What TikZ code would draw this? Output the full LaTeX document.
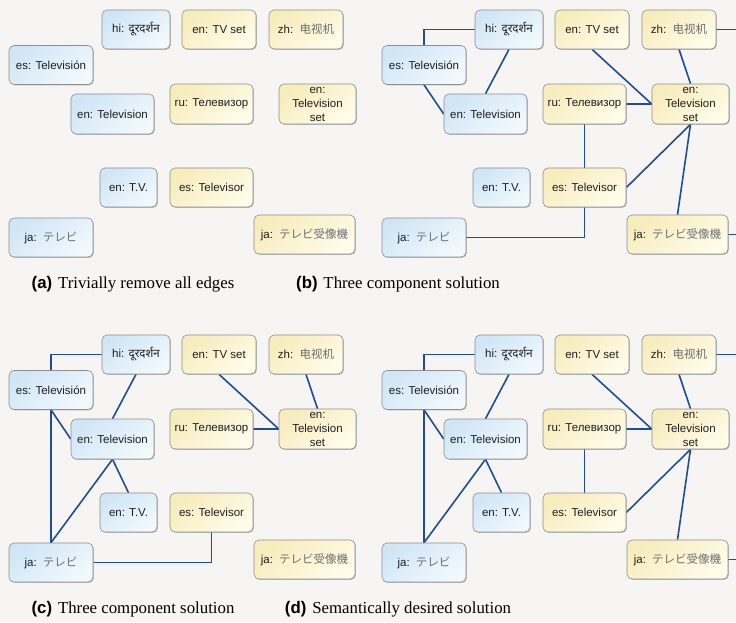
\documentclass[tikz,border=0pt]{standalone}
\usepackage{fontspec}
\setmainfont{Liberation Serif}
\setsansfont{Liberation Sans}
\newfontfamily\boxfont{Liberation Sans}
\newfontfamily\hindifont[Script=Devanagari]{Noto Sans}
\newfontfamily\jpfont{Noto Sans CJK JP}
\newfontfamily\scfont{Noto Sans CJK SC}
\usetikzlibrary{shadows}

\definecolor{bgcol}{HTML}{F6F5F3}
\definecolor{edgecol}{HTML}{1F4E96}
\definecolor{blueA}{HTML}{D0E6F6}
\definecolor{blueB}{HTML}{F2F9FD}
\definecolor{yelA}{HTML}{F7ECBC}
\definecolor{yelB}{HTML}{FFFCEA}
\definecolor{boxline}{HTML}{8E8E8E}
\definecolor{cjkgray}{HTML}{6E6E6E}

\pgfdeclarelayer{bg}
\pgfsetlayers{bg,main}

\tikzset{
  wordbox/.style={draw=boxline, line width=0.6pt, rounded corners=5pt,
    inner sep=0pt, align=center, minimum height=39pt,
    font=\boxfont\fontsize{11.5}{14.5}\selectfont, text=black!88,
    drop shadow={shadow xshift=0.9pt, shadow yshift=-0.9pt, fill=black!55, opacity=0.45}},
  bluebox/.style={wordbox, top color=blueA, bottom color=blueB, shading angle=35},
  yellowbox/.style={wordbox, top color=yelA, bottom color=yelB, shading angle=35},
  link/.style={draw=edgecol, line width=1.6pt},
  captext/.style={font=\fontsize{16.8}{20}\selectfont, inner sep=0pt}
}

\newcommand\cjkjp[1]{{\color{cjkgray}\jpfont #1}}
\newcommand\cjksc[1]{{\color{cjkgray}\scfont #1}}

% the eleven word boxes of one panel, names prefixed by #1
\newcommand\tvnodes[1]{%
  \node[bluebox, minimum width=68pt] (#1hi) at (136,29.5) {hi: {\hindifont दूरदर्शन}};
  \node[yellowbox, minimum width=74pt] (#1tvset) at (219,29.5) {en: TV set};
  \node[yellowbox, minimum width=74pt] (#1zh) at (306,29.5) {zh:\, \cjksc{电视机}};
  \node[bluebox, minimum width=84pt] (#1es) at (51,65) {es: Televisión};
  \node[bluebox, minimum width=83pt, minimum height=40pt] (#1entv) at (112.5,114) {en: Television};
  \node[yellowbox, minimum width=83pt, minimum height=40pt] (#1ru) at (211.5,104) {ru: Телевизор};
  \node[yellowbox, minimum width=77pt, minimum height=40pt, font=\boxfont\fontsize{11.5}{14}\selectfont] (#1tvs) at (317.5,104) {en:\\Television\\set};
  \node[bluebox, minimum width=57pt] (#1tdv) at (128.5,187.5) {en: T.V.};
  \node[yellowbox, minimum width=83pt] (#1estor) at (211.5,187.5) {es: Televisor};
  \node[bluebox, minimum width=84pt] (#1ja) at (51,237.5) {ja:\, \cjkjp{テレビ}};
  \node[yellowbox, minimum width=101pt] (#1jatj) at (304.5,234.5) {ja:\, \cjkjp{テレビ受像機}};
  \coordinate (#1zhout) at (420,29.5);
  \coordinate (#1jaout) at (420,234.5);
}

% links among the blue group shared by panels b, c and d
\newcommand\bluelinks[1]{%
  \draw[link] (#1es.north) |- (#1hi.west);
  \draw[link] (#1hi.south) -- (#1entv.north);
  \draw[link] (#1es.south) -- (#1entv.west);
}
% links among the yellow group shared by panels b, c and d
\newcommand\yellowlinks[1]{%
  \draw[link] (#1tvset.south) -- (#1tvs.west);
  \draw[link] (#1zh.south) -- (#1tvs.north);
  \draw[link] (#1ru.east) -- (#1tvs.west);
}
% the extra yellow links of panels b and d
\newcommand\moreyellowlinks[1]{%
  \draw[link] (#1ru.south) -- (#1estor.north);
  \draw[link] (#1estor.east) -- (#1tvs.south);
  \draw[link] (#1tvs.south) -- (#1jatj.north);
  \draw[link] (#1zh.east) -- (#1zhout);
  \draw[link] (#1jatj.east) -- (#1jaout);
}
% the extra blue links of panels c and d
\newcommand\morebluelinks[1]{%
  \draw[link] (#1es.south) -- (#1ja.north);
  \draw[link] (#1entv.south) -- (#1ja.north);
  \draw[link] (#1entv.south) -- (#1tdv.north);
}

\begin{document}
\begin{tikzpicture}[x=1pt,y=-1pt]
  \begin{pgfonlayer}{bg}
    \fill[bgcol] (0,0) rectangle (736,622);
  \end{pgfonlayer}
  \useasboundingbox (0,0) rectangle (736,622);
  \clip (0,0) rectangle (736,622);

  % (a) no links at all
  \begin{scope}
    \tvnodes{a}
  \end{scope}

  % (b)
  \begin{scope}[shift={(373,0)}]
    \tvnodes{b}
    \begin{pgfonlayer}{bg}
      \bluelinks{b}
      \yellowlinks{b}
      \moreyellowlinks{b}
      \draw[link] (bja.east) -| (bestor.south);
    \end{pgfonlayer}
  \end{scope}

  % (c)
  \begin{scope}[shift={(0,325)}]
    \tvnodes{c}
    \begin{pgfonlayer}{bg}
      \bluelinks{c}
      \morebluelinks{c}
      \yellowlinks{c}
      \draw[link] (cja.east) -| (cestor.south);
    \end{pgfonlayer}
  \end{scope}

  % (d)
  \begin{scope}[shift={(373,325)}]
    \tvnodes{d}
    \begin{pgfonlayer}{bg}
      \bluelinks{d}
      \morebluelinks{d}
      \yellowlinks{d}
      \moreyellowlinks{d}
    \end{pgfonlayer}
  \end{scope}

  % captions
  \node[captext] (capa) at (133,284) {{\sffamily\bfseries (a)}\hspace{0.35em}Trivially remove all edges};
  \node[captext] (capb) at (398,284) {{\sffamily\bfseries (b)}\hspace{0.35em}Three component solution};
  \node[captext] (capc) at (133,609) {{\sffamily\bfseries (c)}\hspace{0.35em}Three component solution};
  \node[captext] (capd) at (398,609) {{\sffamily\bfseries (d)}\hspace{0.35em}Semantically desired solution};
\end{tikzpicture}
\end{document}
